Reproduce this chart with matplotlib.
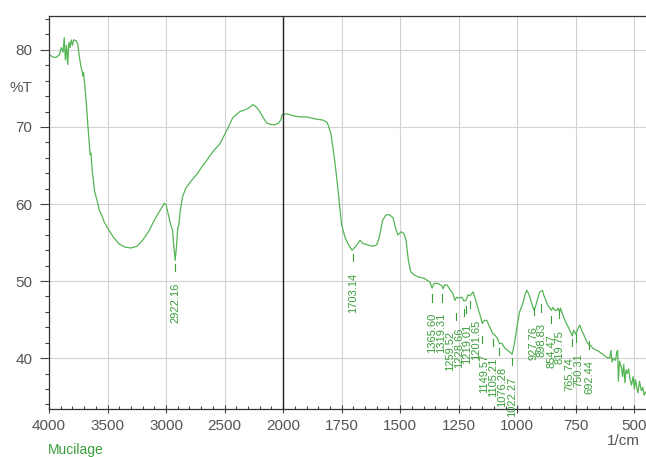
import numpy as np
import matplotlib
matplotlib.use("Agg")
import matplotlib.pyplot as plt
from matplotlib.ticker import FixedLocator

plt.rcParams['font.family'] = ['Liberation Sans', 'DejaVu Sans']

# spectrum (wavenumber 1/cm, %T)
wavenumber = [4000, 3970, 3940, 3910, 3895, 3880, 3870, 3860, 3850, 3840, 3830, 3820,
              3810, 3800, 3790, 3770, 3755, 3740, 3725, 3715, 3710, 3705, 3695, 3680,
              3667, 3655, 3648, 3642, 3630, 3610, 3590, 3570, 3550, 3530, 3500, 3450,
              3400, 3350, 3300, 3250, 3200, 3150, 3100, 3050, 3015, 3000, 2980, 2960,
              2945, 2935, 2922, 2910, 2900, 2890, 2880, 2860, 2830, 2780, 2740, 2700,
              2650, 2600, 2541, 2480, 2430, 2370, 2328, 2290, 2259, 2230, 2200, 2170,
              2140, 2100, 2070, 2040, 2020, 2008, 1983, 1950, 1927, 1900, 1855, 1830,
              1812, 1805, 1795, 1780, 1770, 1750, 1735, 1720, 1706, 1693, 1680, 1672,
              1660, 1640, 1617, 1600, 1590, 1575, 1560, 1545, 1530, 1520, 1510, 1495,
              1485, 1475, 1465, 1455, 1440, 1420, 1400, 1385, 1373, 1364, 1355, 1340,
              1322, 1317, 1310, 1300, 1285, 1275, 1266, 1259, 1253, 1236, 1228, 1219,
              1211, 1201, 1194, 1189, 1181, 1168, 1155, 1149, 1140, 1130, 1117, 1105,
              1096, 1085, 1076, 1065, 1053, 1040, 1032, 1022, 1015, 1010, 1000, 990,
              976, 965, 959, 952, 945, 938, 928, 920, 912, 904, 898, 892, 887, 878,
              870, 861, 854, 848, 840, 831, 825, 819, 815, 810, 800, 790, 780, 770,
              765, 759, 750, 740, 733, 725, 715, 703, 692, 685, 678, 660, 648, 630,
              618, 605, 600, 595, 590, 580, 575, 571, 568, 563, 555, 550, 545, 540,
              535, 530, 524, 518, 512, 505, 500, 495, 490, 484, 478, 470, 464, 458, 451]
transmittance = [79.4, 79.1, 79.0, 79.4, 80.3, 79.7, 81.6, 78.7, 80.6, 78.1, 81.0, 80.3,
                 81.3, 80.6, 81.3, 81.2, 80.8, 79.0, 77.7, 77.1, 76.6, 77.1, 75.5, 72.9,
                 70.0, 67.7, 66.4, 66.6, 64.2, 61.6, 60.5, 59.2, 58.6, 57.7, 56.9, 55.7,
                 54.8, 54.4, 54.3, 54.5, 55.3, 56.4, 57.9, 59.2, 60.1, 59.9, 58.6, 57.3,
                 56.6, 54.7, 52.7, 54.7, 56.9, 57.3, 59.0, 60.9, 62.1, 63.1, 63.8, 64.7,
                 65.7, 66.8, 67.8, 69.6, 71.2, 72.0, 72.2, 72.5, 72.9, 72.6, 72.0, 71.2,
                 70.5, 70.3, 70.3, 70.5, 70.9, 71.6, 71.7, 71.4, 71.3, 71.3, 71.0, 70.9,
                 70.6, 70.0, 69.0, 65.7, 63.1, 57.3, 55.6, 54.7, 54.0, 54.4, 54.9, 55.3,
                 54.9, 54.7, 54.5, 54.7, 55.6, 57.9, 58.6, 58.6, 58.2, 56.9, 56.0, 56.4,
                 56.2, 55.3, 52.7, 51.2, 50.8, 50.5, 50.4, 50.1, 49.9, 49.1, 49.7, 49.7,
                 49.4, 49.0, 49.5, 49.5, 48.8, 48.4, 47.5, 47.9, 47.8, 47.9, 47.4, 47.5,
                 48.2, 48.1, 48.4, 48.6, 47.9, 46.5, 45.2, 44.5, 44.9, 44.9, 44.0, 43.2,
                 43.0, 42.6, 41.9, 41.9, 41.3, 41.0, 40.8, 40.5, 41.4, 42.3, 44.3, 46.0,
                 47.1, 48.4, 48.8, 48.4, 47.8, 47.1, 46.2, 46.9, 47.8, 48.6, 48.7, 48.8,
                 48.2, 47.5, 46.9, 46.5, 46.2, 46.6, 46.2, 46.2, 46.5, 46.0, 46.5, 46.0,
                 45.2, 44.5, 43.9, 43.2, 42.9, 43.6, 43.1, 43.9, 44.3, 43.6, 43.0, 42.1,
                 41.7, 41.6, 41.3, 41.0, 40.8, 40.4, 40.1, 40.0, 41.0, 39.5, 40.0, 39.7,
                 40.8, 41.0, 37.0, 39.6, 38.8, 37.6, 39.2, 36.8, 38.5, 38.0, 38.6, 37.2,
                 36.5, 37.6, 36.0, 37.2, 36.3, 35.5, 37.0, 35.8, 36.2, 35.2, 35.6]

# labelled peaks and the %T where their marks sit
peak_labels = ['2922.16', '1703.14', '1365.60', '1319.31', '1259.52', '1228.66',
               '1219.01', '1201.65', '1149.57', '1105.21', '1076.28', '1022.27',
               '927.76', '898.83', '854.47', '819.75', '765.74', '750.31', '692.44']
peak_T = [52.7, 54.0, 48.8, 48.8, 46.4, 46.9, 47.3, 47.9, 43.4, 43.0, 41.8, 40.5,
          47.0, 47.5, 46.0, 46.6, 43.0, 43.6, 42.7]

x_major = [4000, 3500, 3000, 2500, 2000, 1750, 1500, 1250, 1000, 750, 500]
y_major = [40, 50, 60, 70, 80]

line_green = '#55b555'
text_green = '#3a9e3a'
tick_gray = '#555555'


# above 2000 1/cm the axis is compressed by half
def fwd(w):
    w = np.asarray(w, dtype=float)
    return np.where(w > 2000, 2000 + (w - 2000) * 0.5, w)


def inv(v):
    v = np.asarray(v, dtype=float)
    return np.where(v > 2000, 2000 + (v - 2000) * 2.0, v)


fig = plt.figure(figsize=(6.46, 4.57), dpi=100)
ax = fig.add_axes([49 / 646, 1 - 409 / 457, 597 / 646, 393 / 457])
ax.set_xscale('function', functions=(fwd, inv))
ax.set_xlim(4000, 450)
ax.set_ylim(33.4, 84.4)

ax.plot(wavenumber, transmittance, color=line_green, lw=0.9)

# spread crowded peak labels apart (in pixels), the marks stay on the peaks
peak_w = np.array([float(s) for s in peak_labels])
px = ax.transData.transform(np.column_stack([peak_w, peak_T]))[:, 0]
order = np.argsort(px)
lx = px[order].copy()
gap = 8.6
for _ in range(200):
    for i in range(1, len(lx)):
        d = lx[i] - lx[i - 1]
        if d < gap:
            lx[i - 1] -= (gap - d) / 2
            lx[i] += (gap - d) / 2
label_px = np.empty_like(lx)
label_px[order] = lx
label_w = ax.transData.inverted().transform(np.column_stack([label_px, peak_T]))[:, 0]

for lab, w, t, lw_ in zip(peak_labels, peak_w, peak_T, label_w):
    ax.plot([w, w], [t - 0.5, t - 1.45], color=text_green, lw=0.8)
    ax.text(lw_, t - 2.9, lab, rotation=90, ha='center', va='top',
            fontsize=8, color=text_green)

ax.xaxis.set_major_locator(FixedLocator(x_major))
ax.xaxis.set_minor_locator(FixedLocator(list(range(3900, 2000, -100)) + list(range(1950, 450, -50))))
ax.set_xticklabels([str(v) for v in x_major])
ax.yaxis.set_major_locator(FixedLocator(y_major))
ax.yaxis.set_minor_locator(FixedLocator(list(range(34, 86, 2))))

ax.grid(True, which='major', color='#d2d2d2', lw=0.8)
ax.axvline(2000, color='#222222', lw=1.0)

ax.tick_params(axis='y', which='major', direction='out', length=6.5, width=0.8,
               pad=5.5, labelsize=11, labelcolor=tick_gray, color='#444444')
ax.tick_params(axis='y', which='minor', direction='out', length=3, width=0.8, color='#444444')
ax.tick_params(axis='x', which='major', direction='inout', length=6, width=0.8,
               pad=4, labelsize=11, labelcolor=tick_gray, color='#444444')
ax.tick_params(axis='x', which='minor', direction='in', length=2.5, width=0.8, color='#444444')

for side in ['left', 'bottom', 'top']:
    ax.spines[side].set_color('#333333')
    ax.spines[side].set_linewidth(0.9)
ax.spines['right'].set_visible(False)

fig.text(21 / 646, 1 - 88 / 457, '%T', ha='center', va='center', fontsize=11, color=tick_gray)
fig.text(623 / 646, 1 - 441 / 457, '1/cm', ha='center', va='center', fontsize=11, color=tick_gray)
fig.text(48 / 646, 1 - 450 / 457, 'Mucilage', ha='left', va='center', fontsize=10, color=text_green)

fig.savefig('out.png', dpi=100)
